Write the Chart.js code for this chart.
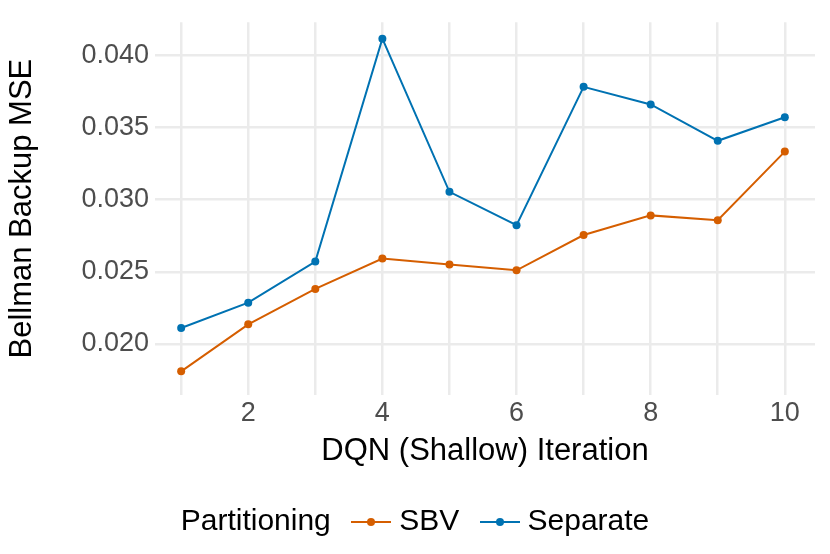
<!DOCTYPE html>
<html>
<head>
<meta charset="UTF-8">
<script src="https://cdn.jsdelivr.net/npm/chart.js"></script>
<style>
  body { margin: 0; background: #fff; font-family: "Liberation Sans", Arial, sans-serif; }
  #wrap { position: relative; width: 830px; height: 554px; }
  #legend { position: absolute; left: 0; width: 830px; top: 503px; text-align: center; font-size: 30px; color: #000; }
  .key { display: inline-block; position: relative; width: 44px; height: 20px; vertical-align: middle; margin: 0 6px 0 10px; }
  .key .ln { position: absolute; left: 2px; right: 2px; top: 9px; height: 2px; }
  .key .dt { position: absolute; left: 18px; top: 6px; width: 8px; height: 8px; border-radius: 50%; }
</style>
</head>
<body>
<div id="wrap">
  <canvas id="gf" width="830" height="554"></canvas>
  <div id="legend">
    Partitioning
    <span class="key"><span class="ln" style="background:#D55E00"></span><span class="dt" style="background:#D55E00"></span></span>SBV
    <span class="key"><span class="ln" style="background:#0072B2"></span><span class="dt" style="background:#0072B2"></span></span>Separate
  </div>
</div>
<script>
  const iteracoes = [1, 2, 3, 4, 5, 6, 7, 8, 9, 10]
  const sbv = [0.0181, 0.02136, 0.02381, 0.02592, 0.02551, 0.0251, 0.02755, 0.02891, 0.02857, 0.03333]
  const separate = [0.0211, 0.02286, 0.02571, 0.04116, 0.03054, 0.02823, 0.03782, 0.0366, 0.03408, 0.03571]
  const yTicks = [0.02, 0.025, 0.03, 0.035, 0.04]

  const fonte = { family: 'Liberation Sans', size: 27 }

  new Chart(document.getElementById('gf'), {
    type: 'line',
    data: {
      datasets: [
        { label: 'SBV', data: iteracoes.map((x, i) => ({ x: x, y: sbv[i] })), borderColor: '#D55E00', backgroundColor: '#D55E00', borderWidth: 2, pointRadius: 4, pointBorderWidth: 0 },
        { label: 'Separate', data: iteracoes.map((x, i) => ({ x: x, y: separate[i] })), borderColor: '#0072B2', backgroundColor: '#0072B2', borderWidth: 2, pointRadius: 4, pointBorderWidth: 0 }
      ]
    },
    options: {
      responsive: false,
      animation: false,
      layout: { padding: { top: 15, right: 15, bottom: 80 } },
      plugins: { legend: { display: false }, tooltip: { enabled: false } },
      scales: {
        x: {
          type: 'linear', min: 0.61, max: 10.45,
          afterBuildTicks: s => { s.ticks = iteracoes.map(v => ({ value: v })) },
          afterFit: s => { s.height = 79 },
          ticks: { font: fonte, color: '#4d4d4d', padding: 2, callback: v => v % 2 === 0 ? v : '' },
          grid: { color: '#ebebeb', lineWidth: 2.5, drawTicks: false },
          border: { display: false },
          title: { display: true, text: 'DQN (Shallow) Iteration', font: { family: 'Liberation Sans', size: 31 }, color: '#000', padding: { top: 0 } }
        },
        y: {
          min: 0.01646, max: 0.0423,
          afterBuildTicks: s => { s.ticks = yTicks.map(v => ({ value: v })) },
          afterFit: s => { s.width = 155 },
          ticks: { font: fonte, color: '#4d4d4d', padding: 6, callback: v => v.toFixed(3) },
          grid: { color: '#ebebeb', lineWidth: 2.5, drawTicks: false },
          border: { display: false },
          title: { display: true, text: 'Bellman Backup MSE', font: { family: 'Liberation Sans', size: 31 }, color: '#000', padding: { bottom: 2 } }
        }
      }
    }
  })
</script>
</body>
</html>
